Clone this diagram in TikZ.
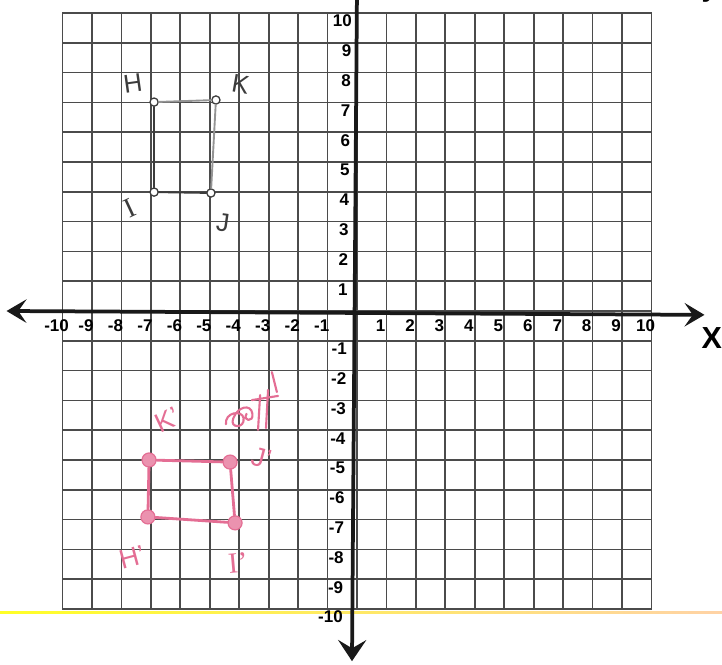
\documentclass[tikz,border=0pt]{standalone}
\usepackage{fontspec}
\setmainfont{Liberation Sans}
\newfontfamily\serifhand{Liberation Serif}
\usetikzlibrary{arrows.meta}
\definecolor{pinkink}{RGB}{228,110,148}
\definecolor{pencil}{RGB}{60,60,60}
\definecolor{gridgray}{RGB}{75,75,75}
\tikzset{
  gridline/.style={draw=gridgray, line width=1.5pt},
  axisline/.style={draw=black!90, line width=3.2pt},
  xnum/.style={font=\bfseries\fontsize{14.5}{14.5}\selectfont, inner sep=0pt},
  ynum/.style={font=\bfseries\fontsize{14.5}{14.5}\selectfont, inner sep=0pt, anchor=east},
  bpt/.style={circle, draw=pencil, fill=white, line width=1.1pt, inner sep=0pt, minimum size=7pt},
  pencilline/.style={draw=pencil, line width=1.6pt, line cap=round},
  faintline/.style={draw=pencil!55, line width=1.6pt, line cap=round},
  handb/.style={text=pencil, font=\fontsize{22}{22}\selectfont, inner sep=0pt},
  ppt/.style={circle, draw=pinkink, fill=pinkink!75, line width=1pt, inner sep=0pt, minimum size=12pt},
  pinkline/.style={draw=pinkink, line width=2.4pt, line cap=round, line join=round},
  handp/.style={text=pinkink, font=\fontsize{23}{23}\selectfont, inner sep=0pt},
}
\begin{document}
\begin{tikzpicture}[x=0.8835cm,y=0.894cm]
\useasboundingbox (-12.122,-11.879) rectangle (12.394,10.436);
\fill[white] (-12.122,-11.879) rectangle (12.394,10.436);

% scan artefact line
\shade[left color=yellow!85!white, middle color=green!45!yellow!80!white, right color=orange!35!white]
  (-12.122,-10.14) rectangle (12.394,-10.07);

% grid
\foreach \k in {-10,...,10}{
  \draw[gridline] (\k,-10) -- (\k,10);
  \draw[gridline] (-10,\k) -- (10,\k);
}

% axes
\coordinate (xl) at (-11.9,0);
\coordinate (xr) at (11.8,-0.13);
\coordinate (yt) at (0,10.8);
\coordinate (yb) at (-0.17,-11.75);
\draw[axisline, {Stealth[length=17pt,width=20pt,inset=7pt]}-{Stealth[length=17pt,width=20pt,inset=7pt]}] (xl) -- (xr);
\draw[axisline, -{Stealth[length=18pt,width=24pt,inset=7pt]}] (yt) -- (yb);

% axis numbers
\foreach \i in {-10,...,-1,1,2,...,10}{
  \node[xnum] (xn\i) at (\i-0.2,-0.5) {\i};
  \pgfmathsetmacro{\yx}{-0.17-(10-\i)*0.0153}
  \node[ynum] (yn\i) at (\yx,\i-0.27) {\i};
}
\node[font=\bfseries\fontsize{26}{26}\selectfont, inner sep=0pt] (X) at (12.05,-0.9) {X};
\node[font=\bfseries\fontsize{24}{24}\selectfont, inner sep=0pt, anchor=base] (Y) at (11.97,10.56) {y};

% pencil figure HIJK
\node[bpt] (H) at (-6.89,7.01) {};
\node[bpt] (I) at (-6.89,3.99) {};
\node[bpt] (J) at (-4.96,3.96) {};
\node[bpt] (K) at (-4.79,7.08) {};
\draw[pencilline] (H) -- (I);
\draw[pencilline] (I) -- (J);
\draw[faintline] (J) -- (K);
\draw[faintline] (K) -- (H);
\node[handb, rotate=8] (Hl) at (-7.61,7.65) {H};
\node[handb, rotate=-10] (Kl) at (-3.95,7.62) {K};
\node[handb, rotate=25, font=\serifhand\fontsize{24}{24}\selectfont] (Il) at (-7.72,3.45) {I};
\node[handb, rotate=-8] (Jl) at (-4.55,2.95) {J};

% pink image H'I'J'K'
\node[ppt] (Hp) at (-7.1,-6.91) {};
\node[ppt] (Kp) at (-7.06,-5.0) {};
\node[ppt] (Jp) at (-4.31,-5.07) {};
\node[ppt] (Ip) at (-4.14,-7.11) {};
\draw[pinkline] (Hp) -- (Kp);
\draw[pinkline] (Kp) -- (Jp);
\draw[pinkline] (Jp) -- (Ip);
\draw[pinkline] (Ip) -- (Hp);
\node[handp, rotate=25] (Kpl) at (-6.45,-3.66) {K’};
\node[handp, rotate=15] (Hpl) at (-7.64,-8.26) {H’};
\node[handp, rotate=5, font=\serifhand\fontsize{25}{25}\selectfont] (Ipl) at (-4.04,-8.46) {I’};
\node[handp, rotate=-15] (Jpl) at (-3.25,-4.93) {J’};

% crossed-out pink scribble
\draw[pinkline, line width=1.8pt]
  (-4.45,-3.8) .. controls (-4.5,-3.4) and (-3.9,-3.3) .. (-3.85,-3.6)
  .. controls (-3.8,-3.95) and (-4.35,-3.95) .. (-4.2,-3.6)
  .. controls (-4.05,-3.2) and (-3.6,-3.1) .. (-3.55,-3.45)
  .. controls (-3.5,-3.75) and (-3.9,-3.7) .. (-3.75,-3.45);
\draw[pinkline, line width=1.8pt] (-3.29,-2.82) -- (-3.36,-3.99);
\draw[pinkline, line width=1.8pt] (-3.02,-2.65) -- (-3.09,-3.93);
\draw[pinkline, line width=1.8pt] (-3.57,-2.99) -- (-2.68,-2.85);
\draw[pinkline, line width=1.8pt] (-2.89,-2.05) -- (-2.72,-2.72);
\end{tikzpicture}
\end{document}
